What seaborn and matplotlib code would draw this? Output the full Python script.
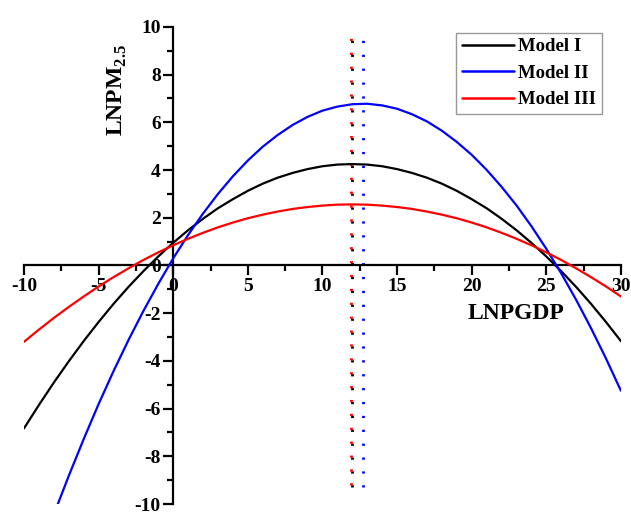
import matplotlib
matplotlib.use("Agg")
import matplotlib.pyplot as plt
import seaborn as sns
import pandas as pd

# ---- data ----
x_common = list(range(-10, 31))
model1_y = [-6.83, -5.85, -4.91, -4.02, -3.17, -2.37, -1.61, -0.90, -0.24, 0.38,
            0.95, 1.48, 1.96, 2.40, 2.78, 3.13, 3.43, 3.68, 3.88, 4.04,
            4.16, 4.23, 4.25, 4.23, 4.16, 4.04, 3.88, 3.68, 3.43, 3.13,
            2.78, 2.40, 1.96, 1.48, 0.95, 0.38, -0.24, -0.90, -1.61, -2.37, -3.17]
model3_y = [-3.20, -2.69, -2.20, -1.74, -1.30, -0.88, -0.49, -0.12, 0.23, 0.55,
            0.85, 1.12, 1.37, 1.60, 1.80, 1.98, 2.13, 2.26, 2.37, 2.45,
            2.51, 2.55, 2.56, 2.55, 2.51, 2.45, 2.37, 2.26, 2.13, 1.98,
            1.80, 1.60, 1.37, 1.12, 0.85, 0.55, 0.23, -0.12, -0.49, -0.88, -1.30]
x_model2 = [-7.75] + list(range(-7, 31))
model2_y = [-10.03, -8.82, -7.28, -5.81, -4.43, -3.13, -1.91, -0.77, 0.30, 1.28,
            2.18, 3.00, 3.74, 4.40, 4.98, 5.47, 5.89, 6.23, 6.49, 6.66,
            6.76, 6.78, 6.71, 6.57, 6.34, 6.04, 5.65, 5.18, 4.64, 4.01,
            3.30, 2.52, 1.65, 0.70, -0.33, -1.44, -2.63, -3.90, -5.25]
model_names = ["Model I", "Model II", "Model III"]
turning_points = [12.0, 12.72, 11.91]      # Model I, Model II, Model III
turning_spans = [(-9.3, 9.75), (-9.3, 9.75), (-9.22, 9.83)]
x_ticks = [-10, -5, 0, 5, 10, 15, 20, 25, 30]
y_ticks = [-10, -8, -6, -4, -2, 0, 2, 4, 6, 8, 10]

colors = {"Model I": "#000000", "Model II": "#0000ff", "Model III": "#ff0000"}

df = pd.concat([
    pd.DataFrame({"x": x_common, "y": model1_y, "model": "Model I"}),
    pd.DataFrame({"x": x_model2, "y": model2_y, "model": "Model II"}),
    pd.DataFrame({"x": x_common, "y": model3_y, "model": "Model III"}),
], ignore_index=True)

sns.set_style("white")
plt.rcParams["font.family"] = ["Liberation Serif", "DejaVu Serif"]
plt.rcParams["font.weight"] = "bold"
plt.rcParams["axes.unicode_minus"] = False
plt.rcParams["mathtext.fontset"] = "custom"
plt.rcParams["mathtext.rm"] = "Liberation Serif:bold"
plt.rcParams["mathtext.bf"] = "Liberation Serif:bold"
for k in ("text.color", "axes.labelcolor", "xtick.color", "ytick.color"):
    plt.rcParams[k] = "black"

fig = plt.figure(figsize=(6.31, 5.13), dpi=100)
ax = fig.add_axes([0.038, 0.0175, 0.946, 0.930])

# vertical dotted turning-point lines
for name, xv, (y0, y1) in zip(model_names, turning_points, turning_spans):
    ax.plot([xv, xv], [y0, y1], color=colors[name], lw=2.0,
            linestyle=(0, (0.8, 4.2)), zorder=2)

sns.lineplot(data=df, x="x", y="y", hue="model", hue_order=model_names,
             palette=colors, estimator=None, sort=False, lw=1.6, ax=ax, zorder=3)

ax.set_xlim(-10, 30)
ax.set_ylim(-10, 10)
ax.spines["left"].set_position(("data", 0))
ax.spines["bottom"].set_position(("data", 0))
ax.spines["top"].set_visible(False)
ax.spines["right"].set_visible(False)
for s in ("left", "bottom"):
    ax.spines[s].set_linewidth(1.6)
    ax.spines[s].set_color("black")

ax.set_xticks(x_ticks)
ax.set_yticks(y_ticks)
ax.set_xticks([v + 2.5 for v in x_ticks[:-1]], minor=True)
ax.set_yticks([v + 1 for v in y_ticks[:-1]], minor=True)
ax.set_xticklabels([str(v) for v in x_ticks])
ax.set_yticklabels([str(v) for v in y_ticks])
ax.tick_params(axis="both", which="both", bottom=True, left=True, top=False, right=False)
ax.tick_params(axis="both", which="major", direction="out", length=7, width=1.6,
               labelsize=14, pad=2, color="black", labelcolor="black")
ax.tick_params(axis="both", which="minor", direction="out", length=4, width=1.6,
               color="black")
for lab in ax.get_xticklabels() + ax.get_yticklabels():
    lab.set_fontweight("bold")

ax.set_xlabel("LNPGDP", fontsize=17, fontweight="bold", va="center", ha="center")
ax.xaxis.set_label_coords(0.825, 0.40)
ax.set_ylabel(r"LNPM$_{\mathbf{2.5}}$", fontsize=17, fontweight="bold",
              va="center", ha="center")
ax.yaxis.set_label_coords(0.157, 0.868)

leg = ax.legend(loc="upper right", bbox_to_anchor=(0.968, 0.988),
                fancybox=False, frameon=True, edgecolor="#808080",
                prop={"family": "Liberation Serif", "weight": "bold", "size": 13.5},
                handlelength=2.8, handletextpad=0.2, borderpad=0.3,
                labelspacing=0.5, borderaxespad=0)
leg.get_frame().set_linewidth(1.0)
for h in leg.get_lines():
    h.set_linewidth(1.8)
for t in leg.get_texts():
    t.set_color("black")

fig.savefig("out.png", dpi=100)
